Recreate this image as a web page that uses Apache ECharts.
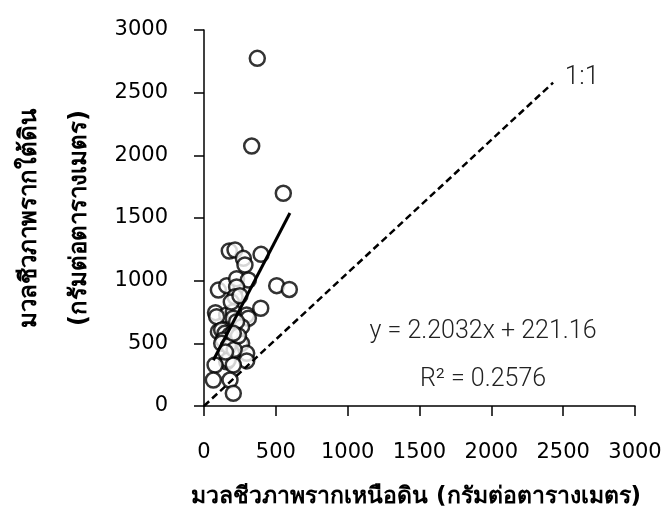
<!DOCTYPE html>
<html>
<head>
<meta charset="utf-8">
<script src="https://cdn.jsdelivr.net/npm/echarts@6/dist/echarts.min.js"></script>
<style>
html,body{margin:0;padding:0;background:#fff;}
#chart{width:667px;height:509px;}
</style>
</head>
<body>
<div id="chart"></div>
<script>
// Observed points: [aboveground biomass, belowground biomass] (g/m2)
const pointsX = [371,332,552,176,216,274,285,397,100,158,227,309,227,216,506,594,80,158,297,395,204,88,204,309,262,227,100,123,146,181,134,123,251,262,181,193,297,297,158,169,77,204,65,181,204,190,250,170,210,150,240,204];
const pointsY = [2774,2074,1697,1237,1245,1178,1125,1210,925,960,1015,1005,950,872,960,930,745,726,726,780,752,713,700,700,633,673,593,606,580,567,527,500,500,500,473,420,420,360,353,367,327,327,207,207,101,830,880,480,450,430,560,580];
// Trendline endpoints
const trendX = [65, 598];
const trendY = [365, 1540];
// 1:1 reference line endpoints
const oneX = [0, 2430];
const oneY = [0, 2580];
const tickLabels = ['0','500','1000','1500','2000','2500','3000'];
const xTitle = 'มวลชีวภาพรากเหนือดิน (กรัมต่อตารางเมตร)';
const yTitle1 = 'มวลชีวภาพรากใต้ดิน';
const yTitle2 = '(กรัมต่อตารางเมตร)';
const eqText = 'y = 2.2032x + 221.16';
const r2Text = 'R² = 0.2576';
const oneLabel = '1:1';

const pts = pointsX.map((x,i)=>[x, pointsY[i]]);
const trend = trendX.map((x,i)=>[x, trendY[i]]);
const one = oneX.map((x,i)=>[x, oneY[i]]);

const chart = echarts.init(document.getElementById('chart'), null, {renderer:'canvas'});
const fontFam = '"DejaVu Sans", "Noto Sans", sans-serif';
const axisCommon = {
  type:'value', min:0, max:3000, interval:500,
  axisLine:{show:true, onZero:false, lineStyle:{color:'#000', width:1.5}},
  axisTick:{show:true, inside:false, length:10, lineStyle:{color:'#000', width:1.5}},
  splitLine:{show:false},
  axisLabel:{color:'#000', fontSize:21, fontWeight:'normal', fontFamily:fontFam, margin:36,
    formatter:function(v){ const s = String(v); return tickLabels.indexOf(s) >= 0 ? s : ''; }}
};
chart.setOption({
  backgroundColor:'#fff',
  animation:false,
  grid:{left:204, top:30, right:32, bottom:103, containLabel:false},
  xAxis: Object.assign({}, axisCommon),
  yAxis: Object.assign({}, axisCommon),
  series:[
    {type:'scatter', data:pts, symbol:'circle', symbolSize:15, z:2,
     itemStyle:{color:'#fff', borderColor:'#000', borderWidth:2.5}},
    {type:'line', data:trend, symbol:'none', z:3, lineStyle:{color:'#000', width:3}},
    {type:'line', data:one, symbol:'none', z:3, lineStyle:{color:'#000', width:2.5, type:[7,4]}}
  ],
  graphic:[
    {type:'text', x:416, y:497, style:{text:xTitle, fill:'#000', font:'bold 23px '+fontFam, textAlign:'center', textVerticalAlign:'middle'}},
    {type:'text', x:30, y:218, rotation:Math.PI/2, style:{text:yTitle1, fill:'#000', font:'bold 24px '+fontFam, textAlign:'center', textVerticalAlign:'middle'}},
    {type:'text', x:80, y:218, rotation:Math.PI/2, style:{text:yTitle2, fill:'#000', font:'bold 24px '+fontFam, textAlign:'center', textVerticalAlign:'middle'}},
    {type:'text', x:483, y:332, style:{text:eqText, fill:'#222', font:'300 25px Roboto, sans-serif', textAlign:'center', textVerticalAlign:'middle'}},
    {type:'text', x:483, y:380, style:{text:r2Text, fill:'#222', font:'300 25px Roboto, sans-serif', textAlign:'center', textVerticalAlign:'middle'}},
    {type:'text', x:582, y:77, style:{text:oneLabel, fill:'#222', font:'300 26px Roboto, sans-serif', textAlign:'center', textVerticalAlign:'middle'}}
  ]
});
</script>
</body>
</html>
